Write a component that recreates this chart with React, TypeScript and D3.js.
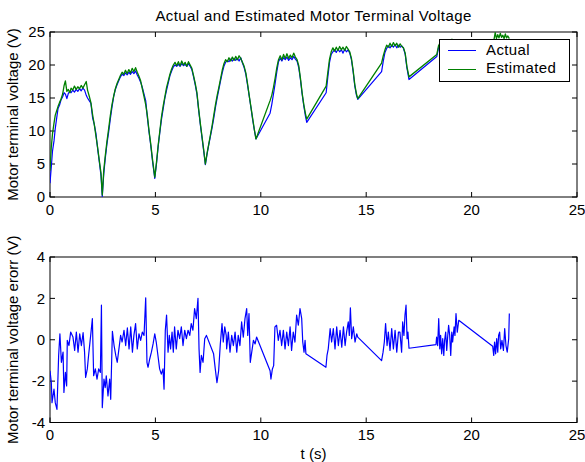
import React from 'react';
import * as d3 from 'd3';

// sample times (s) shared by the two voltage traces
const voltTime = [
  0, 0.06, 0.12, 0.19, 0.25, 0.31, 0.38, 0.45, 0.52, 0.6, 0.67, 0.73, 0.8, 0.87, 0.94, 1.0, 1.08, 1.16, 1.24, 1.32,
  1.4, 1.48, 1.56, 1.64, 1.72, 1.78, 1.86, 1.94, 2.02, 2.1, 2.18, 2.26, 2.34, 2.42, 2.48,
  2.55, 2.62, 2.7, 2.78, 2.86, 2.94, 3.02, 3.1, 3.18, 3.26, 3.34, 3.42, 3.5, 3.58, 3.66, 3.74, 3.82, 3.9, 3.98, 4.06,
  4.14, 4.22, 4.3, 4.38, 4.46, 4.54, 4.62, 4.7, 4.78, 4.86, 4.97,
  5.05, 5.13, 5.21, 5.29, 5.37, 5.45, 5.53, 5.61, 5.69, 5.77, 5.85, 5.93, 6.01, 6.09, 6.17, 6.25, 6.33, 6.41, 6.49, 6.57,
  6.65, 6.73, 6.81, 6.89, 6.97, 7.05, 7.13, 7.21, 7.29, 7.37,
  7.45, 7.53, 7.61, 7.69, 7.77, 7.85, 7.93, 8.01, 8.09, 8.17, 8.25, 8.33, 8.41, 8.49, 8.57, 8.65, 8.73, 8.81, 8.89, 8.97,
  9.05, 9.13, 9.21, 9.29, 9.37, 9.45, 9.53, 9.61, 9.69, 9.77,
  10.44, 10.52, 10.6, 10.68, 10.76, 10.84, 10.92, 11.0, 11.08, 11.16, 11.24, 11.32, 11.4, 11.48, 11.56, 11.64, 11.72, 11.8, 11.88, 11.96,
  12.04, 12.12, 12.18,
  13.1, 13.18, 13.26, 13.34, 13.42, 13.5, 13.58, 13.66, 13.74, 13.82, 13.9, 13.98, 14.06, 14.14, 14.22, 14.3, 14.38, 14.46, 14.54, 14.6,
  15.73, 15.81, 15.89, 15.97, 16.05, 16.13, 16.21, 16.29, 16.37, 16.45, 16.53, 16.61, 16.69, 16.77, 16.85, 16.93, 17.03,
  18.35, 18.43, 18.51, 18.59, 18.67, 18.75, 18.83, 18.91, 18.99, 19.07, 19.15, 19.23, 19.31, 19.4,
  21.0, 21.06, 21.12, 21.18, 21.24, 21.3, 21.36, 21.42, 21.48, 21.54, 21.6, 21.66, 21.72, 21.79,
];

const actualVolt = [
  2.1, 4.5, 7.0, 8.5, 10.4, 11.8, 13.4, 13.9, 14.7, 15.2, 15.8, 15.6, 14.9, 15.7, 16.0, 15.8, 16.2, 15.9, 16.3, 16.0,
  16.4, 16.1, 16.5, 16.2, 15.4, 15.0, 14.6, 14.2, 12.0, 11.0, 9.6, 7.3, 5.3, 3.2, 0.1,
  3.5, 5.8, 8.0, 9.8, 11.8, 13.6, 15.2, 16.3, 17.0, 17.6, 18.2, 18.6, 18.4, 18.8, 18.5, 18.9, 18.6, 19.0, 18.7, 19.1,
  18.5, 18.0, 17.4, 16.6, 15.6, 14.6, 12.0, 9.8, 7.8, 5.5, 2.8,
  5.0, 7.6, 9.8, 11.8, 13.4, 15.0, 16.2, 17.3, 18.4, 19.1, 19.7, 20.0, 19.8, 20.1, 19.8, 20.2, 19.9, 20.1, 19.8, 20.2,
  19.8, 19.3, 18.2, 17.0, 15.6, 13.2, 11.0, 9.0, 7.0, 4.9,
  6.5, 7.9, 9.2, 10.5, 12.0, 13.6, 15.0, 16.3, 17.6, 18.8, 19.8, 20.4, 20.7, 20.5, 20.9, 20.6, 21.0, 20.7, 21.0, 20.6,
  21.1, 20.3, 19.6, 18.6, 17.0, 15.3, 13.6, 11.8, 10.2, 8.8,
  12.7, 14.0, 15.6, 17.2, 19.0, 20.5, 21.0, 20.6, 21.1, 20.8, 21.2, 20.7, 21.1, 20.8, 21.3, 20.9, 20.6, 19.6, 17.8, 15.6,
  13.8, 12.2, 11.3,
  15.8, 18.2, 20.4, 21.6, 22.0, 22.3, 21.9, 22.4, 22.0, 22.3, 21.8, 22.4, 22.0, 22.3, 21.8, 20.8, 19.0, 16.8, 15.4, 14.8,
  19.0, 20.6, 21.9, 22.5, 22.9, 22.6, 23.0, 22.7, 23.1, 22.6, 23.0, 22.7, 22.9, 22.5, 21.6, 19.6, 17.8,
  21.3, 22.6, 23.1, 23.3, 23.0, 23.4, 23.1, 23.5, 23.2, 23.4, 23.1, 23.5, 23.2, 23.0,
  22.4, 23.4, 23.7, 23.5, 23.8, 23.6, 23.8, 23.7, 23.8, 23.5, 23.8, 23.6, 23.8, 23.7,
];

const estimatedVolt = [
  4.0, 7.5, 9.6, 11.2, 12.4, 13.0, 13.7, 14.3, 14.8, 15.6, 16.9, 17.6, 16.0, 16.3, 15.8, 16.5, 16.2, 16.8, 16.3, 16.7,
  16.4, 16.9, 16.5, 17.0, 17.5, 16.2, 15.3, 14.3, 12.5, 11.0, 9.2, 7.5, 5.5, 3.6, 0.3,
  4.0, 6.2, 8.4, 10.3, 12.3, 14.0, 15.3, 16.4, 17.2, 17.8, 18.4, 18.9, 18.6, 19.2, 18.7, 19.3, 18.8, 19.5, 19.0, 19.6,
  18.9, 18.3, 17.6, 16.4, 15.2, 14.0, 12.3, 10.0, 8.0, 5.8, 3.0,
  5.2, 7.8, 10.0, 12.2, 13.8, 15.2, 16.6, 17.6, 18.6, 19.4, 20.0, 20.4, 19.9, 20.5, 19.9, 20.6, 20.0, 20.4, 19.8, 20.5,
  20.0, 19.5, 18.4, 17.2, 15.8, 13.4, 11.2, 9.2, 7.2, 5.0,
  6.6, 8.0, 9.4, 10.8, 12.4, 14.0, 15.4, 16.6, 17.9, 19.2, 20.2, 20.8, 20.5, 21.1, 20.6, 21.2, 20.7, 21.3, 20.8, 21.4,
  21.0, 20.4, 19.8, 18.8, 17.2, 15.4, 13.7, 12.0, 10.3, 8.8,
  14.6, 15.4, 16.6, 18.0, 19.6, 20.8, 21.4, 20.8, 21.6, 21.0, 21.7, 21.0, 21.5, 21.1, 21.8, 21.2, 20.8, 19.9, 18.0, 15.8,
  14.0, 12.6, 11.8,
  16.8, 18.9, 20.9, 22.0, 22.6, 22.1, 22.7, 22.2, 22.8, 22.3, 22.7, 22.2, 22.8, 22.4, 22.0, 21.0, 19.2, 17.0, 15.6, 14.9,
  20.3, 21.4, 22.3, 23.0, 22.7, 23.3, 22.8, 23.4, 22.9, 23.3, 22.7, 23.2, 22.8, 22.6, 21.8, 19.8, 18.2,
  21.6, 22.9, 23.4, 23.1, 23.6, 23.2, 23.7, 23.3, 23.6, 23.9, 23.3, 23.7, 23.4, 23.2,
  22.6, 23.8, 24.9, 24.0, 24.6, 24.1, 24.8, 24.2, 24.5, 24.0, 24.7, 24.1, 24.4, 24.0,
];

// voltage error trace
const errTime = [
  0, 0.063, 0.095, 0.19, 0.25, 0.33, 0.41, 0.47, 0.54, 0.62, 0.66, 0.73, 0.79, 0.82, 0.9, 0.98, 1.09, 1.17, 1.25, 1.33,
  1.41, 1.49, 1.57, 1.64, 1.69, 1.77, 1.83, 1.93, 2.01, 2.07, 2.15, 2.23, 2.31, 2.39, 2.44, 2.48, 2.56, 2.62, 2.67, 2.75,
  2.83, 2.88, 2.96, 3.04, 3.12, 3.19, 3.27, 3.35, 3.42, 3.51, 3.59, 3.67, 3.75, 3.83, 3.91, 3.98, 4.06, 4.14, 4.22, 4.3,
  4.38, 4.46, 4.54, 4.6, 4.65, 4.73, 4.81, 4.89, 4.97, 5.04, 5.12, 5.2, 5.28, 5.36, 5.41, 5.47, 5.53, 5.6, 5.66, 5.72,
  5.79, 5.85, 5.91, 5.99, 6.07, 6.15, 6.23, 6.31, 6.39, 6.47, 6.55, 6.63, 6.7, 6.78, 6.86, 6.94, 7.02, 7.07, 7.12, 7.18,
  7.26, 7.34, 7.42, 7.76, 7.84, 7.92, 8.0, 8.08, 8.16, 8.22, 8.29, 8.36,
  8.38, 8.46, 8.54, 8.62, 8.7, 8.78, 8.86, 8.93, 9.01, 9.09, 9.17, 9.25, 9.33, 9.38, 9.44, 9.5, 9.57, 9.65, 9.73, 9.8,
  10.44, 10.48, 10.55, 10.61, 10.67, 10.75, 10.83, 10.91, 10.99, 11.07, 11.15, 11.23, 11.31, 11.39, 11.46, 11.54, 11.62, 11.7, 11.78, 11.86,
  11.94, 11.99, 12.05, 12.1, 12.14,
  13.09, 13.14, 13.2, 13.29, 13.36, 13.44, 13.52, 13.6, 13.68, 13.76, 13.84, 13.92, 14.0, 14.07, 14.15, 14.2, 14.25, 14.31, 14.39, 14.47,
  14.55, 14.6,
  15.73, 15.8, 15.86, 15.92, 15.99, 16.05, 16.13, 16.21, 16.29, 16.37, 16.45, 16.53,
  16.6, 16.68, 16.73, 16.79, 16.84, 16.89, 16.94, 16.98, 17.03,
  18.31, 18.34, 18.39, 18.44, 18.49, 18.53, 18.58, 18.63, 18.68, 18.72, 18.77, 18.82, 18.87, 18.91, 18.96, 19.01, 19.06, 19.1, 19.17, 19.21,
  19.26, 19.32, 19.39,
  21.0, 21.05, 21.09, 21.14, 21.19, 21.24, 21.28, 21.33, 21.38, 21.44, 21.51, 21.57, 21.63, 21.69, 21.76, 21.79,
];

const errVolt = [
  -1.5, -2.07, -3.04, -2.39, -3.04, -3.37, -0.76, 0.29, -1.09, -0.6, -2.55, -1.58, -2.23, -0.03, -0.28, 0.37, 0.13, -0.52, 0.37, -0.6,
  0.29, -0.28, 0.34, -0.6, -1.82, -1.41, -0.76, 0.21, 1.02, -1.74, -1.41, -1.9, -1.41, -1.58, 1.67, -3.28, -1.9, -2.31, -1.74, -2.72,
  -1.9, -2.88, 0.41, -0.28, -0.76, -1.09, -0.44, 0.21, -0.11, 0.46, -0.28, 0.57, -0.44, 0.62, -0.6, 0.21, 0.78, -0.44, 0.29, -0.03,
  0.37, 0.21, 2.03, -1.09, -1.33, -0.93, -0.6, -0.2, 0.29, -0.11, -0.76, -1.41, -1.66, -1.41, -2.39, 0.46, 1.19, -0.6, 0.21, -0.44,
  0.37, -0.6, 0.62, -0.44, 0.46, 0.05, 0.62, -0.28, 0.46, 0.05, 0.46, 0.21, 0.78, 0.46, 1.51, 1.02, 2.0, -0.44, -1.58, -0.76,
  -1.09, 0.05, 0.21, -0.68, -1.41, -2.07, -1.5, -0.2, 0.78, -0.11, 0.62, 0.21,
  -0.44, 0.37, -0.6, 0.21, -0.28, 0.37, -0.6, 0.21, -0.28, 0.86, 0.13, 1.02, 1.51, 0.21, 1.27, -1.09, -0.6, -0.03, -0.2, 0.13,
  -1.5, -1.9, -1.41, -1.25, 0.62, 0.7, -0.03, 0.46, -0.28, 0.46, -0.44, 0.37, -0.28, 0.62, -0.52, 0.37, -0.11, 1.19, 0.7, 1.51,
  1.02, -0.11, -0.6, -0.03, -0.68,
  -1.33, -0.76, -0.44, 0.54, -0.11, 0.54, -0.44, 0.62, -0.28, 0.46, -0.36, 0.62, -0.28, 0.37, 0.86, 0.21, 1.54, 0.05, 0.62, -0.11,
  0.29, 0.13,
  -1.01, -0.6, -0.11, 0.78, -0.28, 0.37, -0.52, 0.54, -0.44, 0.46, -0.6, 0.37,
  0.37, -0.6, 0.86, 0.21, 1.19, 1.67, 0.05, 0.37, -0.41,
  -0.24, 0.13, -0.28, 1.02, -0.44, 0.21, -0.68, 0.05, -0.76, -0.03, 0.37, -0.52, 0.21, 0.7, 0.21, -0.76, 0.37, -0.11, 0.62, 0.21,
  1.27, 0.37, 0.94,
  -0.31, -0.76, -0.11, -0.68, 0.05, -0.6, 0.21, 0.37, -0.44, -0.03, -0.52, 0.54, -0.28, -0.6, 0.05, 1.27,
];

const xTicks = [0, 5, 10, 15, 20, 25];
const voltTicks = [0, 5, 10, 15, 20, 25];
const errTicks = [-4, -2, 0, 2, 4];
const legendNames = ['Actual', 'Estimated'];
const seriesColors = ['#0000ff', '#008000'];

const W = 585, H = 462;
const left = 50, right = 577;
const FONT = '"Liberation Sans", Arial, Helvetica, sans-serif';
const TICK = 5;

function AxesBox({ x, y, xt, yt, clip }) {
  const [x0, x1] = x.range();
  const [y0, y1] = y.range(); // y0 bottom, y1 top
  return (
    <g>
      <defs>
        <clipPath id={clip}>
          <rect x={x0} y={y1} width={x1 - x0} height={y0 - y1} />
        </clipPath>
      </defs>
      <rect x={x0} y={y1} width={x1 - x0} height={y0 - y1} fill="none" stroke="#000" strokeWidth={1} />
      {xt.map((t) => (
        <g key={'x' + t}>
          <line x1={x(t)} x2={x(t)} y1={y0} y2={y0 - TICK} stroke="#000" />
          <line x1={x(t)} x2={x(t)} y1={y1} y2={y1 + TICK} stroke="#000" />
          <text x={x(t)} y={y0 + 17.5} textAnchor="middle" fontSize={15}>{t}</text>
        </g>
      ))}
      {yt.map((t) => (
        <g key={'y' + t}>
          <line x1={x0} x2={x0 + TICK} y1={y(t)} y2={y(t)} stroke="#000" />
          <line x1={x1} x2={x1 - TICK} y1={y(t)} y2={y(t)} stroke="#000" />
          <text x={x0 - 5} y={y(t) + 5.3} textAnchor="end" fontSize={15}>{t}</text>
        </g>
      ))}
    </g>
  );
}

export default function App() {
  const x = d3.scaleLinear().domain([0, 25]).range([left, right]);
  const yV = d3.scaleLinear().domain([0, 25]).range([197, 32]);
  const yE = d3.scaleLinear().domain([-4, 4]).range([422.5, 257]);

  const voltLine = d3.line<number>().x((d, i) => x(voltTime[i])).y((d) => yV(d));
  const errLine = d3.line<number>().x((d, i) => x(errTime[i])).y((d) => yE(d));

  const midX = (left + right) / 2;

  return (
    <svg
      width={W}
      height={H}
      style={{ position: 'absolute', left: 0, top: 0, background: '#fff' }}
      fontFamily={FONT}
      fill="#000"
    >
      <rect width={W} height={H} fill="#fff" />

      <text x={midX} y={20.5} textAnchor="middle" fontSize={15} letterSpacing={0.4}>
        Actual and Estimated Motor Terminal Voltage
      </text>

      {/* top: voltage */}
      <AxesBox x={x} y={yV} xt={xTicks} yt={voltTicks} clip="clipTop" />
      <g clipPath="url(#clipTop)" fill="none" strokeLinejoin="round">
        <path d={voltLine(actualVolt)} stroke={seriesColors[0]} strokeWidth={1.2} />
        <path d={voltLine(estimatedVolt)} stroke={seriesColors[1]} strokeWidth={1.3} />
      </g>
      <text transform={`translate(18,${yV(12.5)}) rotate(-90)`} textAnchor="middle" fontSize={15}>
        Motor terminal voltage (V)
      </text>

      {/* legend */}
      <g>
        <rect x={439.5} y={39.5} width={130} height={42} fill="#fff" stroke="#000" strokeWidth={1} />
        {legendNames.map((name, i) => (
          <g key={name}>
            <line x1={448} x2={476} y1={50.5 + i * 19} y2={50.5 + i * 19} stroke={seriesColors[i]} strokeWidth={1} />
            <text x={486} y={55 + i * 18.3} fontSize={15} letterSpacing={0.4}>{name}</text>
          </g>
        ))}
      </g>

      {/* bottom: error */}
      <AxesBox x={x} y={yE} xt={xTicks} yt={errTicks} clip="clipBot" />
      <g clipPath="url(#clipBot)" fill="none" strokeLinejoin="round">
        <path d={errLine(errVolt)} stroke={seriesColors[0]} strokeWidth={1.2} />
      </g>
      <text transform={`translate(18,${yE(0)}) rotate(-90)`} textAnchor="middle" fontSize={15}>
        Motor terminal voltage erorr (V)
      </text>
      <text x={midX} y={459} textAnchor="middle" fontSize={15}>t (s)</text>
    </svg>
  );
}
